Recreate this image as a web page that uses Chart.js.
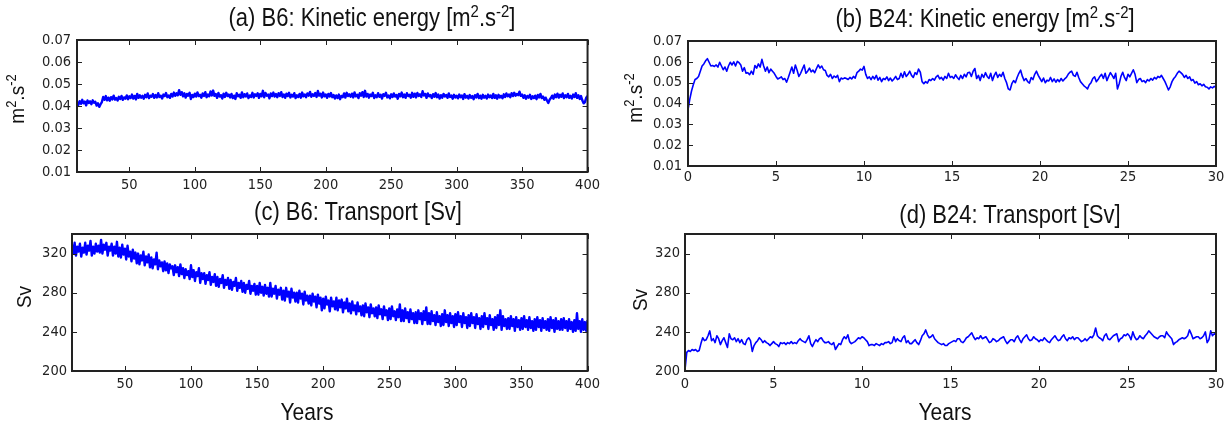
<!DOCTYPE html>
<html>
<head>
<meta charset="utf-8">
<script src="https://cdn.jsdelivr.net/npm/chart.js@4.4.1/dist/chart.umd.min.js"></script>
<style>
  html, body { margin:0; padding:0; background:#fff; }
  body { width:1231px; height:425px; position:relative; overflow:hidden; font-family:"Liberation Sans", Arial, sans-serif; color:#111; }
  .cv { position:absolute; }
  .title { position:absolute; font-size:22px; line-height:22px; white-space:nowrap; transform:translateX(-50%) scaleY(1.15); transform-origin:50% 100%; }
  .sup { font-size:0.68em; position:relative; top:-0.55em; }
  .ylab { position:absolute; font-size:19px; line-height:19px; white-space:nowrap; transform:translate(-50%,-50%) rotate(-90deg) scaleY(1.08); }
  .xlab { position:absolute; font-size:21px; line-height:21px; white-space:nowrap; transform:translateX(-50%) scaleY(1.1); transform-origin:50% 100%; }
</style>
</head>
<body>
<canvas id="ca" class="cv" width="605" height="200" style="left:0px;top:0px;"></canvas>
<canvas id="cb" class="cv" width="611" height="200" style="left:620px;top:0px;"></canvas>
<canvas id="cc" class="cv" width="605" height="200" style="left:0px;top:200px;"></canvas>
<canvas id="cd" class="cv" width="611" height="200" style="left:620px;top:200px;"></canvas>

<div class="title" style="left:372px;top:9px;">(a) B6: Kinetic energy [m<span class="sup">2</span>.s<span class="sup">-2</span>]</div>
<div class="title" style="left:985px;top:10px;">(b) B24: Kinetic energy [m<span class="sup">2</span>.s<span class="sup">-2</span>]</div>
<div class="title" style="left:358px;top:203px;">(c) B6: Transport [Sv]</div>
<div class="title" style="left:1010px;top:206px;">(d) B24: Transport [Sv]</div>

<div class="ylab" style="left:18px;top:99px;">m<span class="sup">2</span>.s<span class="sup">-2</span></div>
<div class="ylab" style="left:636px;top:98px;">m<span class="sup">2</span>.s<span class="sup">-2</span></div>
<div class="ylab" style="left:24px;top:297px;">Sv</div>
<div class="ylab" style="left:640px;top:300px;">Sv</div>

<div class="xlab" style="left:307px;top:402px;">Years</div>
<div class="xlab" style="left:945px;top:402px;">Years</div>

<script>
// ---------------- DATA ----------------
// (a) B6 kinetic energy, yearly from year 10 to 400
const startA = 10, stepA = 1;
const keB6 = [
0.0418,0.0405,0.0422,0.0410,0.0428,0.0412,0.0420,0.0403,0.0425,0.0414,
0.0421,0.0408,0.0426,0.0415,0.0419,0.0402,0.0412,0.0396,0.0408,0.0418,
0.0441,0.0428,0.0445,0.0426,0.0438,0.0424,0.0440,0.0430,0.0447,0.0429,
0.0436,0.0425,0.0442,0.0432,0.0446,0.0428,0.0439,0.0433,0.0448,0.0431,
0.0444,0.0436,0.0452,0.0434,0.0446,0.0430,0.0455,0.0437,0.0449,0.0438,
0.0446,0.0433,0.0451,0.0440,0.0457,0.0436,0.0447,0.0442,0.0454,0.0437,
0.0450,0.0439,0.0458,0.0441,0.0447,0.0434,0.0452,0.0445,0.0459,0.0440,
0.0448,0.0437,0.0455,0.0443,0.0461,0.0446,0.0458,0.0449,0.0472,0.0451,
0.0463,0.0444,0.0458,0.0438,0.0455,0.0447,0.0460,0.0432,0.0450,0.0441,
0.0456,0.0443,0.0462,0.0445,0.0451,0.0438,0.0457,0.0446,0.0463,0.0440,
0.0452,0.0444,0.0466,0.0448,0.0470,0.0446,0.0455,0.0437,0.0459,0.0443,
0.0449,0.0434,0.0456,0.0441,0.0460,0.0445,0.0452,0.0439,0.0455,0.0436,
0.0447,0.0432,0.0458,0.0444,0.0451,0.0437,0.0462,0.0440,0.0454,0.0443,
0.0457,0.0436,0.0448,0.0441,0.0460,0.0439,0.0453,0.0446,0.0458,0.0437,
0.0455,0.0444,0.0469,0.0440,0.0459,0.0447,0.0452,0.0435,0.0457,0.0445,
0.0461,0.0443,0.0454,0.0440,0.0458,0.0446,0.0463,0.0441,0.0452,0.0437,
0.0456,0.0445,0.0460,0.0439,0.0451,0.0443,0.0458,0.0436,0.0449,0.0441,
0.0455,0.0438,0.0461,0.0444,0.0452,0.0440,0.0457,0.0447,0.0464,0.0442,
0.0453,0.0446,0.0459,0.0441,0.0468,0.0447,0.0456,0.0439,0.0461,0.0444,
0.0452,0.0437,0.0455,0.0443,0.0459,0.0440,0.0450,0.0434,0.0448,0.0436,
0.0452,0.0431,0.0446,0.0440,0.0457,0.0438,0.0460,0.0445,0.0453,0.0442,
0.0456,0.0439,0.0462,0.0444,0.0451,0.0436,0.0458,0.0447,0.0463,0.0441,
0.0469,0.0443,0.0455,0.0438,0.0452,0.0445,0.0460,0.0436,0.0449,0.0440,
0.0458,0.0442,0.0451,0.0434,0.0454,0.0446,0.0460,0.0439,0.0448,0.0435,
0.0453,0.0441,0.0457,0.0443,0.0450,0.0433,0.0455,0.0444,0.0461,0.0440,
0.0452,0.0437,0.0458,0.0445,0.0451,0.0438,0.0460,0.0442,0.0456,0.0439,
0.0459,0.0446,0.0453,0.0441,0.0467,0.0448,0.0455,0.0437,0.0457,0.0444,
0.0450,0.0436,0.0454,0.0442,0.0459,0.0440,0.0452,0.0434,0.0449,0.0438,
0.0455,0.0443,0.0450,0.0437,0.0457,0.0441,0.0448,0.0433,0.0451,0.0439,
0.0447,0.0435,0.0452,0.0440,0.0448,0.0432,0.0454,0.0438,0.0446,0.0434,
0.0450,0.0437,0.0445,0.0431,0.0449,0.0439,0.0455,0.0436,0.0447,0.0433,
0.0451,0.0438,0.0446,0.0434,0.0452,0.0440,0.0448,0.0436,0.0455,0.0437,
0.0449,0.0433,0.0451,0.0439,0.0446,0.0435,0.0453,0.0441,0.0457,0.0444,
0.0452,0.0440,0.0458,0.0445,0.0460,0.0447,0.0455,0.0449,0.0465,0.0446,
0.0452,0.0437,0.0449,0.0433,0.0446,0.0438,0.0451,0.0432,0.0444,0.0436,
0.0447,0.0431,0.0450,0.0439,0.0455,0.0436,0.0443,0.0428,0.0438,0.0425,
0.0414,0.0428,0.0436,0.0447,0.0433,0.0452,0.0440,0.0456,0.0438,0.0451,
0.0442,0.0457,0.0436,0.0449,0.0440,0.0455,0.0437,0.0446,0.0434,0.0452,
0.0441,0.0458,0.0437,0.0449,0.0432,0.0445,0.0426,0.0412,0.0418,0.0438,
0.0446
];

// (b) B24 kinetic energy, every 0.1 year from 0 to 30
const startB = 0, stepB = 0.1;
const keB24 = [
0.0370,0.0420,0.0460,0.0490,0.0515,0.0520,0.0530,0.0555,0.0580,0.0590,
0.0605,0.0615,0.0598,0.0580,0.0582,0.0578,0.0585,0.0575,0.0598,0.0580,
0.0562,0.0575,0.0555,0.0580,0.0598,0.0585,0.0600,0.0580,0.0602,0.0596,
0.0585,0.0555,0.0572,0.0545,0.0548,0.0538,0.0555,0.0540,0.0582,0.0570,
0.0590,0.0575,0.0612,0.0580,0.0555,0.0575,0.0548,0.0565,0.0555,0.0545,
0.0530,0.0518,0.0522,0.0528,0.0515,0.0520,0.0502,0.0525,0.0550,0.0575,
0.0545,0.0585,0.0560,0.0530,0.0545,0.0565,0.0585,0.0545,0.0555,0.0570,
0.0552,0.0560,0.0548,0.0568,0.0585,0.0570,0.0580,0.0562,0.0558,0.0535,
0.0528,0.0540,0.0520,0.0532,0.0525,0.0535,0.0505,0.0522,0.0518,0.0523,
0.0520,0.0515,0.0525,0.0518,0.0530,0.0522,0.0548,0.0555,0.0565,0.0560,
0.0578,0.0540,0.0520,0.0528,0.0515,0.0530,0.0518,0.0535,0.0512,0.0525,
0.0505,0.0520,0.0515,0.0528,0.0510,0.0522,0.0508,0.0518,0.0530,0.0515,
0.0520,0.0545,0.0525,0.0552,0.0530,0.0540,0.0555,0.0535,0.0525,0.0548,
0.0540,0.0565,0.0550,0.0505,0.0495,0.0505,0.0498,0.0515,0.0510,0.0520,
0.0512,0.0528,0.0535,0.0518,0.0525,0.0512,0.0530,0.0520,0.0545,0.0525,
0.0530,0.0520,0.0538,0.0525,0.0515,0.0535,0.0520,0.0540,0.0528,0.0548,
0.0550,0.0530,0.0555,0.0568,0.0520,0.0535,0.0510,0.0540,0.0525,0.0548,
0.0530,0.0520,0.0545,0.0510,0.0535,0.0550,0.0525,0.0540,0.0530,0.0550,
0.0520,0.0500,0.0470,0.0465,0.0495,0.0510,0.0500,0.0525,0.0545,0.0560,
0.0530,0.0510,0.0520,0.0505,0.0498,0.0525,0.0515,0.0540,0.0555,0.0535,
0.0520,0.0505,0.0522,0.0500,0.0512,0.0508,0.0525,0.0505,0.0518,0.0502,
0.0515,0.0505,0.0520,0.0508,0.0518,0.0525,0.0540,0.0550,0.0555,0.0535,
0.0530,0.0550,0.0525,0.0505,0.0495,0.0485,0.0478,0.0470,0.0490,0.0500,
0.0520,0.0528,0.0505,0.0515,0.0530,0.0540,0.0520,0.0545,0.0510,0.0530,
0.0548,0.0535,0.0520,0.0545,0.0470,0.0495,0.0530,0.0550,0.0525,0.0510,
0.0540,0.0528,0.0545,0.0562,0.0540,0.0500,0.0515,0.0520,0.0505,0.0510,
0.0500,0.0515,0.0508,0.0520,0.0512,0.0525,0.0518,0.0530,0.0525,0.0535,
0.0520,0.0505,0.0485,0.0465,0.0480,0.0505,0.0520,0.0530,0.0545,0.0555,
0.0548,0.0540,0.0525,0.0535,0.0520,0.0528,0.0510,0.0515,0.0498,0.0505,
0.0490,0.0495,0.0485,0.0492,0.0480,0.0478,0.0470,0.0480,0.0475,0.0482,
0.0478
];

// (c) B6 transport [Sv], yearly from year 10 to 400
const startC = 10, stepC = 1;
const trB6 = [
329,320,331,318,327,322,330,317,326,321,
331,319,328,323,333,318,327,320,330,322,
328,321,334,320,329,324,331,318,327,323,
330,318,327,320,332,317,326,316,329,319,
325,314,328,317,322,312,324,315,321,310,
320,309,318,313,322,308,317,311,319,306,
316,305,314,309,321,304,313,307,311,302,
312,303,310,300,309,305,307,298,308,301,
306,297,309,299,305,295,304,298,302,294,
308,296,303,292,301,297,305,290,300,294,
300,289,298,293,301,288,296,291,299,287,
296,286,294,290,298,285,293,288,295,284,
293,283,291,287,295,282,290,285,292,281,
290,280,288,284,292,279,287,282,289,278,
287,278,290,280,286,277,288,279,285,276,
290,276,284,279,287,274,283,278,285,273,
282,272,285,276,281,270,284,275,280,271,
280,270,282,274,279,268,281,272,277,269,
277,267,279,271,276,265,278,269,275,262,
274,264,276,268,272,261,275,266,271,263,
275,262,272,265,273,260,270,264,274,261,
269,259,271,262,267,258,270,261,266,257,
267,256,269,260,265,255,268,259,264,256,
265,254,267,258,263,253,266,257,262,252,
264,253,266,256,261,252,263,255,268,251,
262,251,264,254,260,250,263,253,259,249,
260,249,262,253,259,248,261,252,265,248,
259,248,261,251,257,247,260,250,256,246,
258,247,262,250,257,246,259,249,256,245,
258,247,260,250,256,245,259,249,255,244,
257,246,259,249,255,244,258,248,254,243,
256,245,259,248,254,243,257,247,253,242,
255,244,257,247,262,242,256,246,253,243,
254,243,256,246,253,241,255,245,252,242,
254,243,256,245,252,242,255,244,251,241,
253,242,255,245,252,241,254,244,251,242,
253,241,255,244,252,240,254,243,251,242,
253,242,254,244,251,241,253,243,250,240,
252,241,259,243,251,240,253,242,250,241,
252
];

// (d) B24 transport [Sv], every 0.1 year from 0 to 30
const startD = 0, stepD = 0.1;
const trB24 = [
201,219,221,220,222,221,222,220,221,228,
234,231,232,236,241,231,233,229,236,233,
227,231,234,229,224,238,233,232,234,230,
233,229,232,228,227,232,234,231,220,226,
229,231,234,232,229,231,229,228,226,228,
230,228,227,225,229,228,229,227,229,228,
230,228,229,228,231,233,231,230,229,232,
236,228,225,229,232,230,233,234,231,229,
229,230,228,227,229,222,225,228,227,232,
235,233,237,230,228,229,230,232,234,233,
235,234,232,230,226,227,227,226,228,227,
226,228,227,229,229,230,228,229,235,230,
233,231,230,234,236,229,231,228,228,230,
232,229,227,231,236,238,242,237,234,235,
237,233,231,229,228,227,228,226,226,228,
229,230,231,230,233,233,230,229,231,234,
235,237,239,235,232,234,233,236,233,234,
235,232,229,230,233,232,230,231,233,234,
235,231,228,230,232,232,230,234,236,232,
229,233,235,237,233,231,232,235,233,232,
230,232,231,234,232,230,229,232,234,236,
233,231,232,235,237,233,231,234,233,235,
232,234,234,232,230,231,233,231,233,235,
234,237,244,236,234,233,231,236,238,233,
232,234,236,237,238,230,233,234,237,236,
238,236,232,240,235,232,233,236,234,233,
236,238,241,239,237,235,234,233,235,236,
236,234,240,237,235,233,227,229,230,232,
233,234,233,234,236,242,238,233,234,235,
235,233,234,236,240,229,232,241,236,238,
237
];

// Tick labels
const xTicksB6  = [50,100,150,200,250,300,350,400];
const xTicksB24 = [0,5,10,15,20,25,30];
const yTicksKE  = [0.01,0.02,0.03,0.04,0.05,0.06,0.07];
const yTicksTr  = [200,240,280,320];

// ---------------- CHARTS ----------------
function toPoints(vals, start, step) {
  return vals.map((v, i) => ({ x: +(start + i * step).toFixed(3), y: v }));
}

const frameColor = '#222222';
const tickFont = { family: "'DejaVu Sans Condensed', 'DejaVu Sans'", size: 14.5 };

const mplFrame = {
  id: 'mplFrame',
  afterDraw(chart) {
    const { ctx, chartArea: a, scales } = chart;
    const x = scales.x, y = scales.y;
    const L = 5;
    ctx.save();
    ctx.strokeStyle = frameColor;
    ctx.lineWidth = 1;
    ctx.beginPath();
    x.ticks.forEach(t => {
      const px = Math.round(x.getPixelForValue(t.value)) + 0.5;
      ctx.moveTo(px, a.bottom); ctx.lineTo(px, a.bottom - L);
      ctx.moveTo(px, a.top); ctx.lineTo(px, a.top + L);
    });
    y.ticks.forEach(t => {
      const py = Math.round(y.getPixelForValue(t.value)) + 0.5;
      ctx.moveTo(a.left, py); ctx.lineTo(a.left + L, py);
      ctx.moveTo(a.right, py); ctx.lineTo(a.right - L, py);
    });
    ctx.stroke();
    ctx.lineWidth = 2;
    ctx.strokeRect(a.left, a.top, a.right - a.left, a.bottom - a.top);
    ctx.restore();
  }
};

function makeChart(id, pts, cfg) {
  return new Chart(document.getElementById(id), {
    type: 'line',
    data: { datasets: [{ data: pts, borderColor: '#0000ff', borderWidth: cfg.lw,
      pointRadius: 0, tension: 0, fill: false, borderJoinStyle: 'round' }] },
    options: {
      responsive: false, animation: false, parsing: true,
      layout: { padding: { top: cfg.pt, right: cfg.pr, left: 0, bottom: 0 } },
      plugins: { legend: { display: false }, tooltip: { enabled: false }, title: { display: false } },
      scales: {
        x: {
          type: 'linear', min: cfg.xmin, max: cfg.xmax,
          grid: { display: false, drawTicks: false }, border: { display: false },
          afterBuildTicks: s => { s.ticks = cfg.xticks.map(v => ({ value: v })); },
          afterFit: s => { s.height = cfg.xh; },
          ticks: { font: tickFont, color: '#222', padding: cfg.xpad, maxRotation: 0, autoSkip: false,
            callback: v => String(v) }
        },
        y: {
          type: 'linear', min: cfg.ymin, max: cfg.ymax,
          grid: { display: false, drawTicks: false }, border: { display: false },
          afterBuildTicks: s => { s.ticks = cfg.yticks.map(v => ({ value: v })); },
          afterFit: s => { s.width = cfg.yw; },
          ticks: { font: tickFont, color: '#222', padding: cfg.ypad, autoSkip: false,
            callback: v => cfg.ydec ? Number(v).toFixed(cfg.ydec) : String(v) }
        }
      }
    },
    plugins: [mplFrame]
  });
}

makeChart('ca', toPoints(keB6, startA, stepA), {
  lw: 2.4, pt: 40, pr: 16, xmin: 10, xmax: 400, ymin: 0.01, ymax: 0.07,
  xticks: xTicksB6, yticks: yTicksKE, xh: 28, yw: 77, xpad: 5, ypad: 6, ydec: 2 });
makeChart('cb', toPoints(keB24, startB, stepB), {
  lw: 1.6, pt: 41, pr: 15, xmin: 0, xmax: 30, ymin: 0.01, ymax: 0.07,
  xticks: xTicksB24, yticks: yTicksKE, xh: 34, yw: 68, xpad: 3, ypad: 6, ydec: 2 });
makeChart('cc', toPoints(trB6, startC, stepC), {
  lw: 2.4, pt: 34, pr: 15, xmin: 10, xmax: 400, ymin: 200, ymax: 340,
  xticks: xTicksB6, yticks: yTicksTr, xh: 29, yw: 72, xpad: 5, ypad: 5, ydec: 0 });
makeChart('cd', toPoints(trB24, startD, stepD), {
  lw: 1.6, pt: 34, pr: 15, xmin: 0, xmax: 30, ymin: 200, ymax: 340,
  xticks: xTicksB24, yticks: yTicksTr, xh: 29, yw: 65, xpad: 5, ypad: 5, ydec: 0 });
</script>
</body>
</html>
